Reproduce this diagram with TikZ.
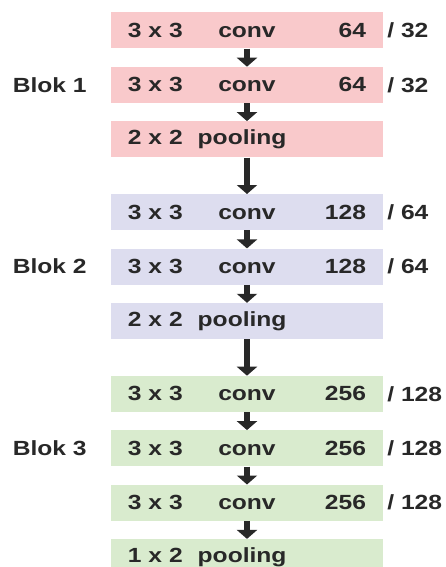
\documentclass[tikz,border=0pt]{standalone}
\usepackage{fontspec}
\setmainfont{Liberation Sans}[FakeStretch=1.2]
\usepackage{xcolor}
\definecolor{textgray}{RGB}{40, 40, 40}
\definecolor{blokpink}{RGB}{249, 201, 203}
\definecolor{bloklilac}{RGB}{221, 221, 239}
\definecolor{blokgreen}{RGB}{217, 235, 206}
\usetikzlibrary{arrows.meta, positioning}

\begin{document}
\begin{tikzpicture}[node distance=18pt, font=\fontsize{20.5}{24}\selectfont\bfseries, text=textgray,
        block/.style={rectangle, minimum width=272pt, minimum height=36pt, text width=238pt, inner xsep=17pt, inner ysep=0pt, align=center},
        pool/.style={block, align=left},
        side/.style={inner sep=0pt},
        line/.style={draw=textgray, line width=5.5pt, -{Triangle[width=20pt,length=9pt]}}]
        \useasboundingbox (-247pt,30.5pt) rectangle (199pt,-536.5pt);

        % Blok 1
        \node [block, fill=blokpink] (b1c1) {\rlap{3 x 3}\hfill conv\hfill\llap{64}};
        \node [block, fill=blokpink, below=of b1c1] (b1c2) {\rlap{3 x 3}\hfill conv\hfill\llap{64}};
        \node [pool, fill=blokpink, below=of b1c2] (b1pool) {2 x 2\hspace{15pt}pooling};

        % Blok 2
        \node [block, fill=bloklilac, below=36.5pt of b1pool] (b2c1) {\rlap{3 x 3}\hfill conv\hfill\llap{128}};
        \node [block, fill=bloklilac, below=of b2c1] (b2c2) {\rlap{3 x 3}\hfill conv\hfill\llap{128}};
        \node [pool, fill=bloklilac, below=of b2c2] (b2pool) {2 x 2\hspace{15pt}pooling};

        % Blok 3
        \node [block, fill=blokgreen, below=36.5pt of b2pool] (b3c1) {\rlap{3 x 3}\hfill conv\hfill\llap{256}};
        \node [block, fill=blokgreen, below=of b3c1] (b3c2) {\rlap{3 x 3}\hfill conv\hfill\llap{256}};
        \node [block, fill=blokgreen, below=of b3c2] (b3c3) {\rlap{3 x 3}\hfill conv\hfill\llap{256}};
        \node [pool, fill=blokgreen, below=of b3c3] (b3pool) {1 x 2\hspace{15pt}pooling};

        % Etykiety blokow i kanalow
        \node [side, left=24pt of b1c2] (blok1) {Blok 1};
        \node [side, left=24pt of b2c2] (blok2) {Blok 2};
        \node [side, left=24pt of b3c2] (blok3) {Blok 3};
        \node [side, right=4pt of b1c1] (b1c1ch) {/ 32};
        \node [side, right=4pt of b1c2] (b1c2ch) {/ 32};
        \node [side, right=4pt of b2c1] (b2c1ch) {/ 64};
        \node [side, right=4pt of b2c2] (b2c2ch) {/ 64};
        \node [side, right=4pt of b3c1] (b3c1ch) {/ 128};
        \node [side, right=4pt of b3c2] (b3c2ch) {/ 128};
        \node [side, right=4pt of b3c3] (b3c3ch) {/ 128};

        \path [line] (b1c1) -- (b1c2);
        \path [line] (b1c2) -- (b1pool);
        \path [line] (b1pool) -- (b2c1);
        \path [line] (b2c1) -- (b2c2);
        \path [line] (b2c2) -- (b2pool);
        \path [line] (b2pool) -- (b3c1);
        \path [line] (b3c1) -- (b3c2);
        \path [line] (b3c2) -- (b3c3);
        \path [line] (b3c3) -- (b3pool);
    \end{tikzpicture}
\end{document}
